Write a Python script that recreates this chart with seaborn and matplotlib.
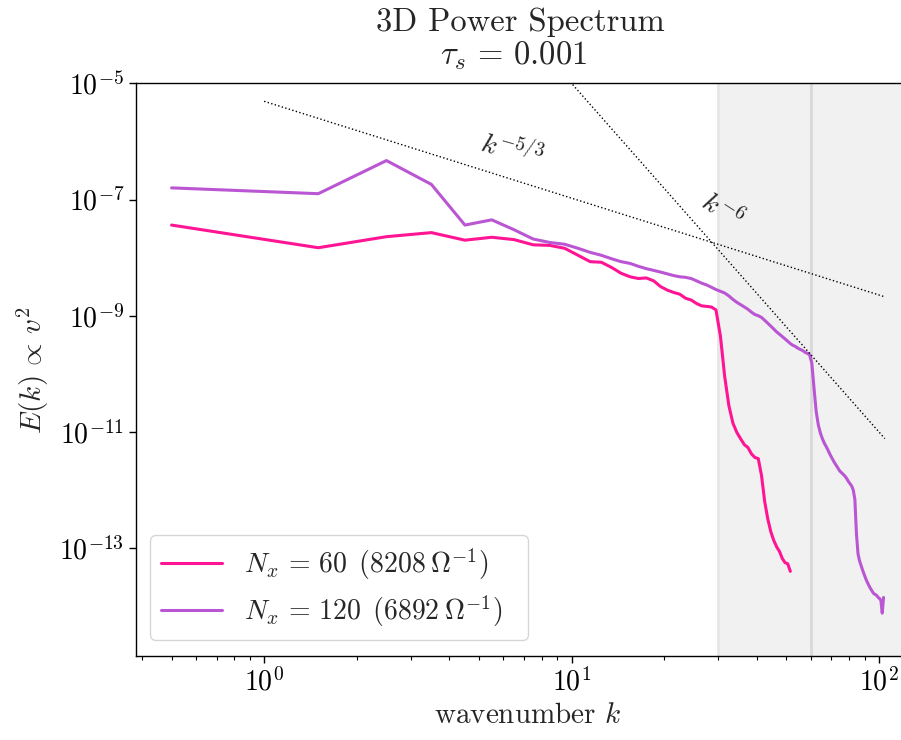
import numpy as np
import pandas as pd
import matplotlib
matplotlib.use("Agg")
import matplotlib.pyplot as plt
import seaborn as sns
from matplotlib.ticker import NullLocator, FixedLocator

# ---------------- data ----------------
k60 = [i + 0.5 for i in range(52)]
logE60 = [-7.44, -7.83, -7.64, -7.57, -7.70, -7.65, -7.69, -7.78, -7.79, -7.84,
          -7.96, -8.07, -8.08, -8.17, -8.27, -8.33, -8.36, -8.35, -8.40, -8.50,
          -8.56, -8.60, -8.63, -8.70, -8.73, -8.79, -8.83, -8.84, -8.85, -8.90,
          -9.35, -10.05, -10.55, -10.85, -11.01, -11.12, -11.22, -11.27, -11.38, -11.44,
          -11.46, -11.75, -12.20, -12.50, -12.72, -12.87, -12.98, -13.06, -13.18, -13.25,
          -13.27, -13.40]

k120 = [i + 0.5 for i in range(104)]
logE120 = [-6.80, -6.90, -6.33, -6.74, -7.44, -7.35, -7.52, -7.68, -7.74, -7.77,
           -7.84, -7.91, -7.96, -8.02, -8.07, -8.10, -8.15, -8.19, -8.22, -8.25,
           -8.28, -8.31, -8.33, -8.34, -8.36, -8.40, -8.44, -8.47, -8.51, -8.55,
           -8.58, -8.61, -8.66, -8.72, -8.77, -8.81, -8.85, -8.89, -8.94, -8.98,
           -9.00, -9.03, -9.08, -9.13, -9.18, -9.23, -9.28, -9.32, -9.36, -9.40,
           -9.44, -9.48, -9.51, -9.53, -9.56, -9.58, -9.60, -9.63, -9.65, -9.67,
           -9.82, -10.25, -10.65, -10.88, -11.02, -11.12, -11.20, -11.26, -11.33, -11.40,
           -11.46, -11.52, -11.57, -11.62, -11.67, -11.70, -11.73, -11.76, -11.80, -11.85,
           -11.89, -11.93, -12.00, -12.16, -12.75, -13.10, -13.22, -13.30, -13.38, -13.45,
           -13.52, -13.58, -13.63, -13.68, -13.72, -13.76, -13.79, -13.80, -13.82, -13.85,
           -13.87, -13.90, -14.12, -13.85]

labels = [r"$N_x \,=\, 60\ \,(8208\:\Omega^{-1})$", r"$N_x \,=\, 120\ \,(6892\:\Omega^{-1})$"]
colors = ["#ff1493", "#ba55d3"]
title_lines = ["3D Power Spectrum", r"$\tau_s \,=\, 0.001$"]

# reference power laws
k_ref = [1.0, 104.5]
amp_53 = 10 ** -5.31
amp_6 = 10 ** 1.0
cutoffs = [30, 60]

# ---------------- style ----------------
sns.set_style("ticks")
plt.rcParams.update({
    "font.family": "serif",
    "font.serif": ["cmr10"],
    "mathtext.fontset": "cm",
    "axes.formatter.use_mathtext": True,
    "axes.unicode_minus": True,
    "axes.edgecolor": "black",
    "xtick.color": "black",
    "ytick.color": "black",
    "axes.linewidth": 1.0,
})

fig = plt.figure(figsize=(9.01, 7.40), dpi=100)
ax = fig.add_axes([136 / 901, 1 - 656 / 740, (919 - 136) / 901, (656 - 83.3) / 740])

ax.set_xscale("log")
ax.set_yscale("log")

# shaded unresolved region
ax.axvspan(cutoffs[0], 1000, color="#f1f1f1", lw=0, zorder=0)
ax.axvline(cutoffs[0], color="#e6e6e6", lw=2, zorder=0.5)
ax.axvline(cutoffs[1], color="#d9d9d9", lw=2, zorder=0.5)

df60 = pd.DataFrame({"k": k60, "E": np.power(10.0, logE60)})
df120 = pd.DataFrame({"k": k120, "E": np.power(10.0, logE120)})
sns.lineplot(data=df60, x="k", y="E", color=colors[0], lw=2.2, label=labels[0], ax=ax, sort=False)
sns.lineplot(data=df120, x="k", y="E", color=colors[1], lw=2.2, label=labels[1], ax=ax, sort=False)

kr = np.array(k_ref)
ax.plot(kr, amp_53 * kr ** (-5.0 / 3.0), ls=":", color="black", lw=1.0)
ax.plot(kr, amp_6 * kr ** (-6.0), ls=":", color="black", lw=1.0)

ax.text(6.4, 10 ** -6.14, r"$k^{-5/3}$", rotation=-16, ha="center", va="center", fontsize=20)
ax.text(30.8, 10 ** -7.21, r"$k^{-6}$", rotation=-33, ha="center", va="center", fontsize=20)

ax.set_xlim(0.383, 135)
ax.set_ylim(10 ** -14.857, 1e-5)
ax.yaxis.set_major_locator(FixedLocator([1e-5, 1e-7, 1e-9, 1e-11, 1e-13]))
ax.yaxis.set_minor_locator(NullLocator())
ax.tick_params(axis="both", which="major", labelsize=20, length=5, width=1)
ax.tick_params(axis="x", which="minor", length=3, width=0.8)

ax.set_xlabel(r"wavenumber $k$", fontsize=21, labelpad=4)
ax.set_ylabel(r"$E(k) \,\propto\, v^2$", fontsize=21, labelpad=6)

fig.text(520 / 901, 1 - 31 / 740, title_lines[0], ha="center", va="baseline", fontsize=23.5)
fig.text(514 / 901, 1 - 64 / 740, title_lines[1], ha="center", va="baseline", fontsize=23.5)

leg = ax.legend(loc="lower left", fontsize=20, frameon=True, fancybox=True,
                edgecolor="0.8", framealpha=0.8, handlelength=2.2, labelspacing=0.4,
                mode="expand", borderaxespad=0,
                bbox_to_anchor=(14 / 783, 16 / 572.7, 378 / 783, 103 / 572.7))

fig.savefig("out.png", dpi=100)
